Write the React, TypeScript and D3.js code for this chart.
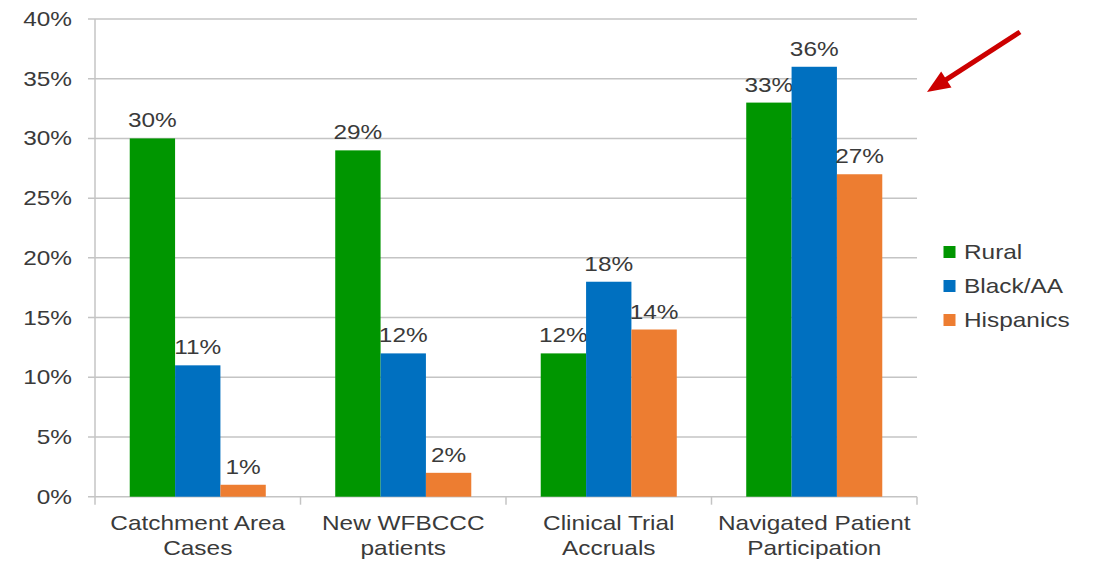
import React, { useRef, useEffect } from 'react';
import * as d3 from 'd3';

const categories = [
    ['Catchment Area', 'Cases'],
    ['New WFBCCC', 'patients'],
    ['Clinical Trial', 'Accruals'],
    ['Navigated Patient', 'Participation'],
];
const seriesNames = ['Rural', 'Black/AA', 'Hispanics'];
const rural = [30, 29, 12, 33];
const blackAA = [11, 12, 18, 36];
const hispanics = [1, 2, 14, 27];
const yTicks = [0, 5, 10, 15, 20, 25, 30, 35, 40];

const App: React.FC = () => {
    const svgRef = useRef<SVGSVGElement>(null);
    const width = 1097;
    const height = 561;

    useEffect(() => {
        if (!svgRef.current) return;
        const svg = d3.select(svgRef.current);
        svg.selectAll('*').remove();

        const font = 'Liberation Sans, Arial, sans-serif';
        const textColor = '#3a3a3a';
        const stretch = 1.22; // source text is horizontally stretched
        const colors = ['#009600', '#0070C0', '#ED7D31'];
        const values = [rural, blackAA, hispanics];

        const left = 95, right = 917, top = 19, bottom = 496.7;

        const x0 = d3.scaleBand<number>()
            .domain(categories.map((_, i) => i))
            .range([left, right])
            .padding(0);
        const bw = x0.bandwidth();
        const x1 = d3.scaleBand<number>()
            .domain(seriesNames.map((_, i) => i))
            .range([bw * 0.169, bw * 0.831])
            .padding(0);
        const y = d3.scaleLinear().domain([0, 40]).range([bottom, top]);

        const label = (xp: number, yp: number, txt: string, anchor = 'middle') => {
            svg.append('text')
                .attr('transform', `translate(${xp},${yp}) scale(${stretch},1)`)
                .attr('text-anchor', anchor)
                .attr('font-family', font)
                .attr('font-size', 20)
                .attr('fill', textColor)
                .text(txt);
        };

        // gridlines
        yTicks.forEach(t => {
            svg.append('line')
                .attr('x1', left - 7).attr('x2', right)
                .attr('y1', y(t)).attr('y2', y(t))
                .attr('stroke', '#c4c4c4')
                .attr('stroke-width', 1.5);
            label(72, y(t) + 7, `${t}%`, 'end');
        });

        // y axis line
        svg.append('line')
            .attr('x1', left).attr('x2', left)
            .attr('y1', top).attr('y2', bottom + 8)
            .attr('stroke', '#c4c4c4')
            .attr('stroke-width', 1.5);

        // category ticks
        categories.forEach((_, i) => {
            const xt = (x0(i) as number) + bw;
            svg.append('line')
                .attr('x1', xt).attr('x2', xt)
                .attr('y1', bottom).attr('y2', bottom + 8)
                .attr('stroke', '#c4c4c4')
                .attr('stroke-width', 1.5);
        });

        // bars
        categories.forEach((cat, ci) => {
            const gx = x0(ci) as number;
            values.forEach((vals, si) => {
                const bx = gx + (x1(si) as number);
                const v = vals[ci];
                svg.append('rect')
                    .attr('x', bx)
                    .attr('y', y(v))
                    .attr('width', x1.bandwidth())
                    .attr('height', y(0) - y(v))
                    .attr('fill', colors[si]);
                label(bx + x1.bandwidth() / 2, y(v) - 11, `${v}%`);
            });
            label(gx + bw / 2, 530, cat[0]);
            label(gx + bw / 2, 555, cat[1]);
        });

        // legend
        seriesNames.forEach((name, i) => {
            const cy = 252 + i * 34;
            svg.append('rect')
                .attr('x', 943.5).attr('y', cy - 6)
                .attr('width', 12).attr('height', 12)
                .attr('fill', colors[i]);
            label(964, cy + 7, name, 'start');
        });

        // red arrow annotation
        const tail: [number, number] = [1020, 32];
        const tip: [number, number] = [927, 92];
        const dx = tip[0] - tail[0], dy = tip[1] - tail[1];
        const len = Math.hypot(dx, dy);
        const ux = dx / len, uy = dy / len;
        const hl = 23, hw = 9.5;
        const bxp = tip[0] - ux * hl, byp = tip[1] - uy * hl;
        svg.append('line')
            .attr('x1', tail[0]).attr('y1', tail[1])
            .attr('x2', bxp + ux * 2).attr('y2', byp + uy * 2)
            .attr('stroke', '#cc0000')
            .attr('stroke-width', 5);
        svg.append('polygon')
            .attr('points', [
                tip,
                [bxp - uy * hw, byp + ux * hw],
                [bxp + uy * hw, byp - ux * hw],
            ].map(p => p.join(',')).join(' '))
            .attr('fill', '#cc0000');
    }, []);

    return (
        <svg
            ref={svgRef}
            width={width}
            height={height}
            style={{ position: 'absolute', left: 0, top: 0, background: '#fff' }}
        />
    );
};

export default App;
